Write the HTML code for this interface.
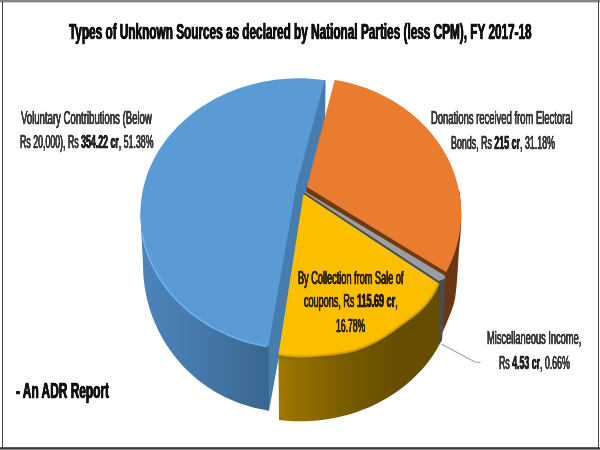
<!DOCTYPE html>
<html>
<head>
<meta charset="utf-8">
<title>Types of Unknown Sources</title>
<style>
html,body{margin:0;padding:0;background:#fff;}
body{width:600px;height:450px;position:relative;overflow:hidden;font-family:"Liberation Sans",sans-serif;}
#w{position:absolute;left:0;top:0;width:600px;height:450px;filter:blur(0.65px);}
#chart{position:absolute;left:0;top:0;width:600px;height:450px;}
.t{position:absolute;white-space:nowrap;line-height:1;transform-origin:0 0;color:#383838;-webkit-text-stroke:0.6px #383838;text-shadow:0.2px 0 0 #383838,-0.2px 0 0 #383838;}
.t b{font-weight:bold;color:#222;-webkit-text-stroke:0.55px #222;text-shadow:0.4px 0 0 #222,-0.4px 0 0 #222;}
.h{font-weight:bold;color:#111;-webkit-text-stroke:0.5px #111;text-shadow:0.5px 0 0 #111,-0.5px 0 0 #111;}
.y{color:#2e2300;-webkit-text-stroke:0.7px #2e2300;text-shadow:0.3px 0 0 #2e2300,-0.3px 0 0 #2e2300;}
.y b{color:#241b00;-webkit-text-stroke:0.6px #241b00;text-shadow:0.4px 0 0 #241b00,-0.4px 0 0 #241b00;}
.bt{position:absolute;left:0;top:0;width:600px;height:3.4px;background:linear-gradient(#848484 0,#848484 58%,#fff 100%);}
.bb{position:absolute;left:0;top:446.6px;width:600px;height:3.4px;background:linear-gradient(#fff 0,#3a3a3a 20%,#3a3a3a 50%,#858585 65%,#858585 100%);}
.bl{position:absolute;left:1.6px;top:1px;width:1.5px;height:447px;background:#444;}
.br{position:absolute;left:597.8px;top:1px;width:1.5px;height:447px;background:#444;}
</style>
</head>
<body>
<div id="w">
<svg id="chart" width="600" height="450" viewBox="0 0 600 450">
<defs>
<linearGradient id="gbs" gradientUnits="userSpaceOnUse" x1="140" y1="0" x2="270" y2="0">
<stop offset="0" stop-color="#4c84ba"/><stop offset="0.35" stop-color="#477cae"/><stop offset="1" stop-color="#3a668f"/>
</linearGradient>
<linearGradient id="gys" gradientUnits="userSpaceOnUse" x1="278" y1="0" x2="440" y2="0">
<stop offset="0" stop-color="#a07800"/><stop offset="0.45" stop-color="#775a00"/><stop offset="0.75" stop-color="#664d00"/><stop offset="1" stop-color="#664d00"/>
</linearGradient>
<filter id="sb" x="-5%" y="-20%" width="110%" height="140%"><feGaussianBlur stdDeviation="0.9"/></filter>
</defs>
<g filter="none">
<path d="M320.0 80.3 L325.6 80.3 L325 126 L308 190 L279 356 L269 410.7 L265 410 L262 347 L290 185 Z" fill="#467dae"/>
<path d="M140.4 213.8 L143.05 264.90 L143.14 270.04 L143.40 275.17 L143.85 280.29 L144.47 285.40 L145.27 290.47 L146.24 295.52 L147.39 300.53 L148.71 305.49 L150.21 310.41 L151.87 315.27 L153.70 320.06 L155.70 324.80 L157.86 329.45 L160.17 334.03 L162.65 338.53 L165.28 342.93 L168.06 347.24 L171.00 351.45 L174.07 355.55 L177.28 359.55 L180.64 363.42 L184.12 367.18 L187.73 370.81 L191.47 374.31 L195.32 377.68 L199.29 380.92 L203.37 384.00 L207.56 386.95 L211.84 389.74 L216.22 392.39 L220.69 394.87 L225.24 397.20 L229.87 399.37 L234.57 401.37 L239.34 403.21 L244.17 404.87 L249.05 406.37 L253.98 407.69 L258.96 408.84 L263.97 409.81 L269.01 410.61 L269 410.7 L268.6 347 L268.6 300 L200 220 Z" fill="url(#gbs)"/>
<path d="M324.7 80.3 L324.73 80.15 L319.25 79.46 L313.74 78.93 L308.22 78.57 L302.68 78.37 L297.14 78.34 L291.61 78.47 L286.08 78.77 L280.56 79.24 L275.07 79.87 L269.61 80.66 L264.18 81.61 L258.80 82.73 L253.46 84.01 L248.18 85.44 L242.97 87.04 L237.82 88.79 L232.74 90.69 L227.75 92.74 L222.84 94.94 L218.03 97.28 L213.31 99.77 L208.70 102.40 L204.20 105.16 L199.82 108.05 L195.55 111.08 L191.42 114.23 L187.41 117.50 L183.54 120.89 L179.81 124.39 L176.23 128.01 L172.80 131.72 L169.52 135.54 L166.40 139.46 L163.44 143.46 L160.64 147.55 L158.02 151.72 L155.57 155.97 L153.29 160.29 L151.19 164.67 L149.27 169.12 L147.53 173.61 L145.98 178.16 L144.62 182.75 L143.44 187.38 L142.46 192.04 L141.66 196.73 L141.06 201.44 L140.65 206.16 L140.44 210.90 L140.41 215.63 L140.59 220.37 L140.95 225.09 L141.51 229.81 L142.26 234.50 L143.20 239.17 L144.33 243.80 L145.65 248.40 L147.16 252.96 L148.85 257.47 L150.73 261.93 L152.79 266.33 L155.03 270.66 L157.44 274.93 L160.02 279.11 L162.78 283.22 L165.70 287.25 L168.78 291.18 L172.03 295.02 L175.43 298.77 L178.97 302.40 L182.67 305.93 L186.51 309.35 L190.48 312.65 L194.59 315.83 L198.83 318.88 L203.18 321.81 L207.66 324.60 L212.24 327.26 L216.93 329.78 L221.73 332.16 L226.61 334.39 L231.59 336.47 L236.64 338.41 L241.77 340.19 L246.98 341.82 L252.24 343.29 L257.57 344.61 L262.94 345.76 L268.36 346.76 L268.3 347.0 L296.5 185.0 Z" fill="#5b9bd5"/>
<path d="M141.8 232.0 L142.67 236.66 L143.70 241.33 L144.93 245.96 L146.34 250.56 L147.94 255.11 L149.73 259.61 L151.70 264.05 L153.85 268.44 L156.18 272.75 L158.69 276.99 L161.37 281.16 L164.21 285.24 L167.23 289.23 L170.40 293.13 L173.73 296.94 L177.22 300.64 L180.86 304.23 L184.64 307.71 L188.56 311.08 L192.62 314.33 L196.81 317.45 L201.12 320.45 L205.56 323.31 L210.11 326.04 L214.76 328.64 L219.53 331.09 L224.39 333.39 L229.34 335.55 L234.37 337.56 L239.49 339.42 L244.68 341.12 L249.93 342.67 L255.25 344.06 L260.62 345.29 L266.04 346.35" fill="none" stroke="#72b6f5" stroke-width="1.6" opacity="0.9"/>
<path d="M459.3 190.0 C459.5 191.3 460.0 195.5 460.3 198.0 C460.6 200.5 460.7 202.2 460.9 205.0 C461.1 207.8 461.2 212.5 461.3 215.0 C461.4 217.5 461.3 217.5 461.2 220.0 C461.1 222.5 461.0 226.7 460.8 230.0 C460.6 233.3 460.3 236.7 460.0 240.0 C459.7 243.3 459.3 245.8 459.0 250.0 C458.7 254.2 458.3 260.6 458.0 265.0 C457.7 269.4 457.8 271.4 457.3 276.7 C456.9 282.0 456.1 291.5 455.3 296.7 C454.5 301.9 453.6 304.6 452.5 308.0 C451.4 311.4 450.4 313.4 449.0 317.0 C447.6 320.6 445.2 326.5 444.0 329.3 C442.8 332.1 442.3 333.2 442.0 334.0 L442 340 L444 278 L440 265 L450 230 Z" fill="#6b3713"/>
<path d="M306.8 185.0 L446.7 270.6 L444.7 276.7 L306.5 193 Z" fill="#6e3a12"/>
<path d="M305 191.5 L444.7 275.5 L445 279.5 L439.3 284.5 L303.5 195 Z" fill="#9a9da1"/>
<path d="M303.5 193.2 L439.3 282.5" fill="none" stroke="#4a4a4a" stroke-width="2"/>
<path d="M439 281 L445 278.5 L444.7 300 L442 340 L438.7 346 L439 300 Z" fill="#4b4b4b"/>
<path d="M439.4 284.2 L439.3 340 L438.67 345.99 L436.26 350.14 L433.68 354.22 L430.94 358.22 L428.03 362.14 L424.97 365.96 L421.76 369.69 L418.40 373.32 L414.89 376.85 L411.24 380.27 L407.45 383.57 L403.53 386.76 L399.48 389.83 L395.31 392.77 L391.03 395.59 L386.63 398.27 L382.13 400.82 L377.52 403.24 L372.82 405.51 L368.03 407.63 L363.16 409.62 L358.21 411.45 L353.19 413.13 L348.10 414.66 L342.95 416.03 L337.75 417.25 L332.51 418.31 L327.22 419.21 L321.91 419.95 L316.56 420.53 L311.19 420.95 L305.82 421.20 L300.43 421.29 L295.04 421.22 L289.66 420.98 L284.30 420.58 L278.95 420.03 L279 419.7 L278.4 354 Z" fill="url(#gys)"/>
<path d="M303.5 194.0 L439.4 284.2 C438.7 285.7 436.9 290.2 435.3 293.0 C433.7 295.8 431.7 298.7 430.0 301.0 C428.3 303.3 426.7 305.2 425.0 307.0 C423.3 308.8 421.7 310.3 420.0 311.8 C418.3 313.3 416.7 314.7 415.0 316.0 C413.3 317.3 412.5 318.0 410.0 319.8 C407.5 321.6 403.3 324.6 400.0 327.0 C396.7 329.4 393.3 331.9 390.0 334.2 C386.7 336.5 383.3 338.7 380.0 340.6 C376.7 342.5 373.3 344.2 370.0 345.7 C366.7 347.2 363.3 348.5 360.0 349.7 C356.7 350.9 353.1 351.9 350.0 352.6 C346.9 353.4 345.3 353.6 341.7 354.2 C338.1 354.8 332.8 355.5 328.3 356.0 C323.9 356.5 319.4 356.8 315.0 357.1 C310.6 357.4 306.1 357.7 301.7 357.7 C297.2 357.7 292.2 357.4 288.3 357.0 C284.4 356.6 280.0 355.8 278.3 355.5 Z" fill="#fbbf00"/>
<path d="M439.4 284.2 C438.7 285.7 436.9 290.2 435.3 293.0 C433.7 295.8 431.7 298.7 430.0 301.0 C428.3 303.3 426.7 305.2 425.0 307.0 C423.3 308.8 421.7 310.3 420.0 311.8 C418.3 313.3 416.7 314.7 415.0 316.0 C413.3 317.3 412.5 318.0 410.0 319.8 C407.5 321.6 403.3 324.6 400.0 327.0 C396.7 329.4 393.3 331.9 390.0 334.2 C386.7 336.5 383.3 338.7 380.0 340.6 C376.7 342.5 373.3 344.2 370.0 345.7 C366.7 347.2 363.3 348.5 360.0 349.7 C356.7 350.9 353.1 351.9 350.0 352.6 C346.9 353.4 345.3 353.6 341.7 354.2 C338.1 354.8 332.8 355.5 328.3 356.0 C323.9 356.5 319.4 356.8 315.0 357.1 C310.6 357.4 306.1 357.7 301.7 357.7 C297.2 357.7 292.2 357.4 288.3 357.0 C284.4 356.6 280.0 355.8 278.3 355.5" fill="none" stroke="#5e4700" stroke-opacity="0.55" stroke-width="2.4" filter="url(#sb)"/>
<path d="M334.7 79.7 L334.66 79.90 L340.00 80.85 L345.30 81.97 L350.55 83.26 L355.75 84.70 L360.89 86.31 L365.96 88.07 L370.95 89.99 L375.87 92.07 L380.70 94.29 L385.43 96.67 L390.07 99.19 L394.61 101.85 L399.03 104.65 L403.34 107.59 L407.53 110.66 L411.60 113.86 L415.53 117.18 L419.33 120.62 L422.99 124.17 L426.50 127.84 L429.86 131.62 L433.07 135.49 L436.13 139.47 L439.02 143.53 L441.75 147.69 L444.31 151.92 L446.69 156.24 L448.91 160.62 L450.94 165.07 L452.80 169.58 L454.48 174.14 L455.97 178.76 L457.27 183.41 L458.39 188.11 L459.32 192.84 L460.06 197.59 L460.61 202.36 L460.96 207.15 L461.13 211.94 L461.10 216.74 L460.88 221.53 L460.47 226.32 L459.87 231.08 L459.07 235.83 L458.09 240.55 L456.92 245.23 L455.56 249.88 L454.01 254.48 L452.28 259.03 L450.38 263.52 L448.29 267.95 L446.02 272.32 L446.7 272.6 L306.8 187.0 Z" fill="#ea7c30"/>
<path d="M441.3 344 L475 362 L480.5 362.3" fill="none" stroke="#a4a4a4" stroke-width="1.2"/>
</g>
</svg>
<div class="t h" id="ti" style="left:69.3px;top:21.0px;font-size:22.3px;transform:scaleX(0.5286)">Types of Unknown Sources as declared by National Parties (less CPM), FY 2017-18</div>
<div class="t" id="a1" style="left:20.5px;top:110.4px;font-size:17.6px;transform:scaleX(0.5437)">Voluntary Contributions (Below</div>
<div class="t" id="a2" style="left:19.5px;top:133.9px;font-size:17.6px;transform:scaleX(0.4999)">Rs 20,000), Rs <b>354.22 cr</b>, 51.38%</div>
<div class="t" id="b1" style="left:431.3px;top:110.1px;font-size:17.6px;transform:scaleX(0.5367)">Donations received from Electoral</div>
<div class="t" id="b2" style="left:451.0px;top:134.5px;font-size:17.6px;transform:scaleX(0.5039)">Bonds, Rs <b>215 cr</b>, 31.18%</div>
<div class="t y" id="c1" style="left:297.6px;top:269.8px;font-size:17.6px;transform:scaleX(0.5212)">By Collection from Sale of</div>
<div class="t y" id="c2" style="left:304.0px;top:293.0px;font-size:17.6px;transform:scaleX(0.5150)">coupons, Rs <b>115.69 cr</b>,</div>
<div class="t y" id="c3" style="left:336.4px;top:317.9px;font-size:17.6px;transform:scaleX(0.4893)">16.78%</div>
<div class="t" id="d1" style="left:487.3px;top:329.8px;font-size:17.6px;transform:scaleX(0.5270)">Miscellaneous Income,</div>
<div class="t" id="d2" style="left:499.3px;top:354.5px;font-size:17.6px;transform:scaleX(0.4992)">Rs <b>4.53 cr</b>, 0.66%</div>
<div class="t h" id="ad" style="left:16.0px;top:380.0px;font-size:22.3px;transform:scaleX(0.5338)">- An ADR Report</div>

</div>
<div class="bt"></div><div class="bb"></div><div class="bl"></div><div class="br"></div>
</body>
</html>
